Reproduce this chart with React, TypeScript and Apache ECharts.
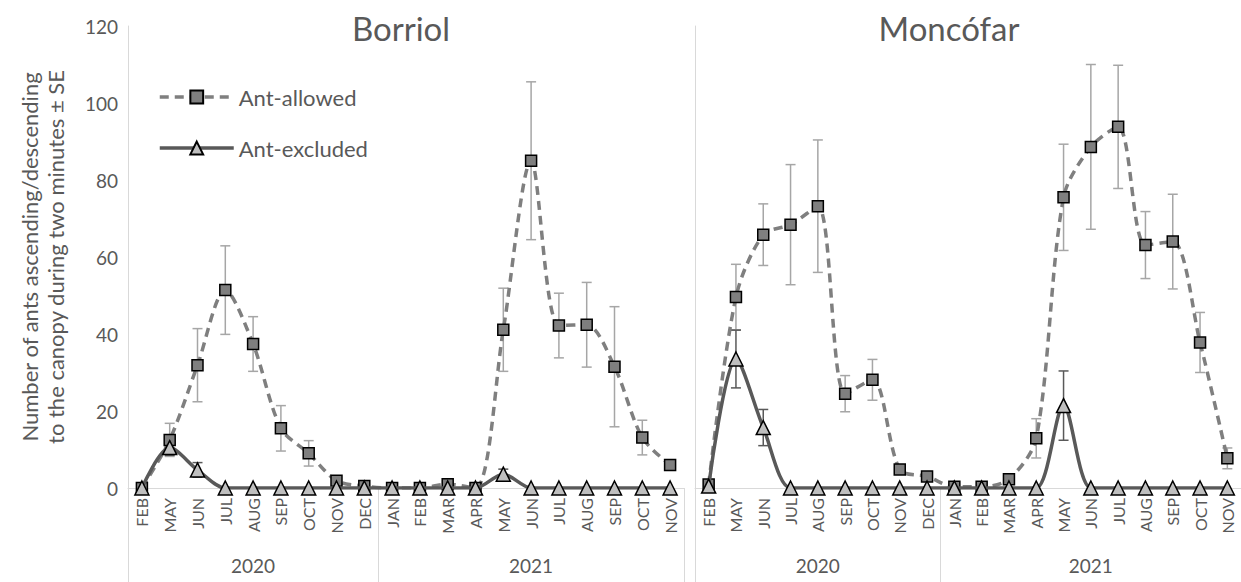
import React, { useEffect, useRef } from "react";
import * as echarts from "echarts";

const months = ["FEB","MAY","JUN","JUL","AUG","SEP","OCT","NOV","DEC","JAN","FEB","MAR","APR","MAY","JUN","JUL","AUG","SEP","OCT","NOV"];
const years = ["2020", "2021"];
const yearSpans = [9, 11];
const panelTitles = ["Borriol", "Moncófar"];
const seriesNames = ["Ant-allowed", "Ant-excluded"];
const yAxisTitle = "Number of ants ascending/descending\nto the canopy during two minutes ± SE";

const borriolAllowed = [0, 12.5, 31.9, 51.4, 37.4, 15.5, 9, 1.9, 0.5, 0, 0, 1, 0, 41.1, 85, 42.2, 42.4, 31.5, 13.1, 6];
const borriolAllowedSE = [0, 4.3, 9.5, 11.5, 7.1, 5.9, 3.3, 1, 0, 0, 0, 0, 0, 10.8, 20.5, 8.4, 11, 15.6, 4.5, 1.3];
const borriolExcluded = [0, 10.5, 4.7, 0, 0, 0, 0, 0, 0, 0, 0, 0, 0, 3.6, 0, 0, 0, 0, 0, 0];
const borriolExcludedSE = [0, 2, 1.9, 0, 0, 0, 0, 0, 0, 0, 0, 0, 0, 1.3, 0, 0, 0, 0, 0, 0];

const moncofarAllowed = [0.9, 49.6, 65.8, 68.4, 73.2, 24.5, 28.1, 4.8, 3, 0.3, 0.3, 2.3, 12.9, 75.5, 88.6, 93.8, 63.1, 64, 37.8, 7.7];
const moncofarAllowedSE = [0, 8.5, 8, 15.6, 17.2, 4.7, 5.3, 0, 0, 0, 0, 0, 5.1, 13.8, 21.4, 16, 8.7, 12.3, 7.8, 2.7];
const moncofarExcluded = [0.5, 33.5, 15.7, 0, 0, 0, 0, 0, 0, 0, 0, 0, 0, 21.4, 0, 0, 0, 0, 0, 0];
const moncofarExcludedSE = [0, 7.5, 4.7, 0, 0, 0, 0, 0, 0, 0, 0, 0, 0, 9, 0, 0, 0, 0, 0, 0];

const panels = [
  { allowed: borriolAllowed, allowedSE: borriolAllowedSE, excluded: borriolExcluded, excludedSE: borriolExcludedSE },
  { allowed: moncofarAllowed, allowedSE: moncofarAllowedSE, excluded: moncofarExcluded, excludedSE: moncofarExcludedSE },
];

const FONT = "Lato";
const TEXT = "#595959";
const AXIS = "#d9d9d9";

function errorData(vals: number[], se: number[]) {
  const out: number[][] = [];
  vals.forEach((v, i) => {
    if (se[i] > 0) out.push([i, v - se[i], v + se[i]]);
  });
  return out;
}

function errorSeries(gridIdx: number, vals: number[], se: number[], color: string) {
  return {
    type: "custom",
    xAxisIndex: gridIdx,
    yAxisIndex: gridIdx,
    z: 1,
    silent: true,
    encode: { x: 0, y: [1, 2] },
    data: errorData(vals, se),
    renderItem: (params: any, api: any) => {
      const x = api.value(0);
      const top = api.coord([x, api.value(2)]);
      const bot = api.coord([x, api.value(1)]);
      const w = 5;
      const style = { stroke: color, lineWidth: 1.5 };
      return {
        type: "group",
        children: [
          { type: "line", shape: { x1: top[0], y1: top[1], x2: bot[0], y2: bot[1] }, style },
          { type: "line", shape: { x1: top[0] - w, y1: top[1], x2: top[0] + w, y2: top[1] }, style },
          { type: "line", shape: { x1: bot[0] - w, y1: bot[1], x2: bot[0] + w, y2: bot[1] }, style },
        ],
      };
    },
  };
}

export default function App() {
  const ref = useRef<HTMLDivElement>(null);
  useEffect(() => {
    if (!ref.current) return;
    const chart = echarts.init(ref.current, null, { renderer: "svg" });

    const boundaries: number[] = [0];
    yearSpans.forEach((s) => boundaries.push(boundaries[boundaries.length - 1] + s));
    const centers = yearSpans.map((s, i) => boundaries[i] + s / 2);

    const grids = [
      { left: 128, width: 556, top: 26, bottom: 94 },
      { left: 695, right: 0, top: 26, bottom: 94 },
    ];
    const titleX = [401, 949];

    const xAxes: any[] = [];
    const yAxes: any[] = [];
    grids.forEach((_, g) => {
      xAxes.push({
        type: "category",
        gridIndex: g,
        data: months,
        boundaryGap: true,
        axisLine: { show: true, lineStyle: { color: AXIS, width: 1 } },
        axisTick: { show: false },
        axisLabel: { interval: 0, rotate: 90, fontSize: 16, color: TEXT, fontFamily: FONT, margin: 10 },
        splitLine: { show: false },
      });
      yAxes.push({
        type: "value",
        gridIndex: g,
        min: 0,
        max: 120,
        interval: 20,
        axisLine: { show: true, lineStyle: { color: AXIS, width: 1 } },
        axisTick: { show: false },
        splitLine: { show: false },
        axisLabel: { show: g === 0, fontSize: 19, color: TEXT, fontFamily: FONT, margin: 10 },
        name: g === 0 ? yAxisTitle : "",
        nameLocation: "middle",
        nameGap: 60,
        nameRotate: 90,
        nameTextStyle: { fontSize: 22, color: TEXT, fontFamily: FONT, lineHeight: 26 },
      });
    });
    grids.forEach((_, g) => {
      xAxes.push({
        type: "value",
        gridIndex: g,
        min: 0,
        max: months.length,
        position: "bottom",
        axisLine: { show: false },
        splitLine: { show: false },
        axisTick: { show: true, customValues: boundaries, length: 94, lineStyle: { color: AXIS, width: 1 } },
        axisLabel: {
          customValues: centers,
          formatter: (v: number) => years[centers.indexOf(v)] ?? "",
          margin: 68,
          fontSize: 19,
          color: TEXT,
          fontFamily: FONT,
        },
      });
    });

    const series: any[] = [];
    panels.forEach((p, g) => {
      series.push(errorSeries(g, p.allowed, p.allowedSE, "#a6a6a6"));
      series.push(errorSeries(g, p.excluded, p.excludedSE, "#595959"));
    });
    panels.forEach((p, g) => {
      series.push({
        name: seriesNames[0],
        type: "line",
        xAxisIndex: g,
        yAxisIndex: g,
        data: p.allowed,
        smooth: 0.3,
        z: 3,
        symbol: "rect",
        symbolSize: 11,
        lineStyle: { color: "#7f7f7f", width: 3.5, type: [9, 6] },
        itemStyle: { color: "#7f7f7f", borderColor: "#000", borderWidth: 1.5 },
      });
    });
    panels.forEach((p, g) => {
      series.push({
        name: seriesNames[1],
        type: "line",
        xAxisIndex: g,
        yAxisIndex: g,
        data: p.excluded,
        smooth: 0.3,
        z: 4,
        symbol: "triangle",
        symbolSize: 14,
        lineStyle: { color: "#595959", width: 3.5, type: "solid" },
        itemStyle: { color: "#bfbfbf", borderColor: "#000", borderWidth: 1.5 },
      });
    });

    chart.setOption({
      animation: false,
      textStyle: { fontFamily: FONT },
      title: panelTitles.map((t, i) => ({
        text: t,
        left: titleX[i],
        top: 11,
        padding: 0,
        textAlign: "center",
        textStyle: { fontSize: 33, fontWeight: "normal", color: TEXT, fontFamily: FONT },
      })),
      legend: {
        data: seriesNames.map((n) => ({ name: n })),
        orient: "vertical",
        left: 158,
        top: 86,
        padding: 0,
        itemWidth: 74,
        itemHeight: 16,
        itemGap: 29,
        selectedMode: false,
        lineStyle: { width: 3.5 },
        textStyle: { fontSize: 22, color: TEXT, fontFamily: FONT },
      },
      grid: grids,
      xAxis: xAxes,
      yAxis: yAxes,
      series,
    });
    return () => chart.dispose();
  }, []);
  return <div ref={ref} style={{ position: "absolute", left: 0, top: 0, width: 1241, height: 582 }} />;
}
